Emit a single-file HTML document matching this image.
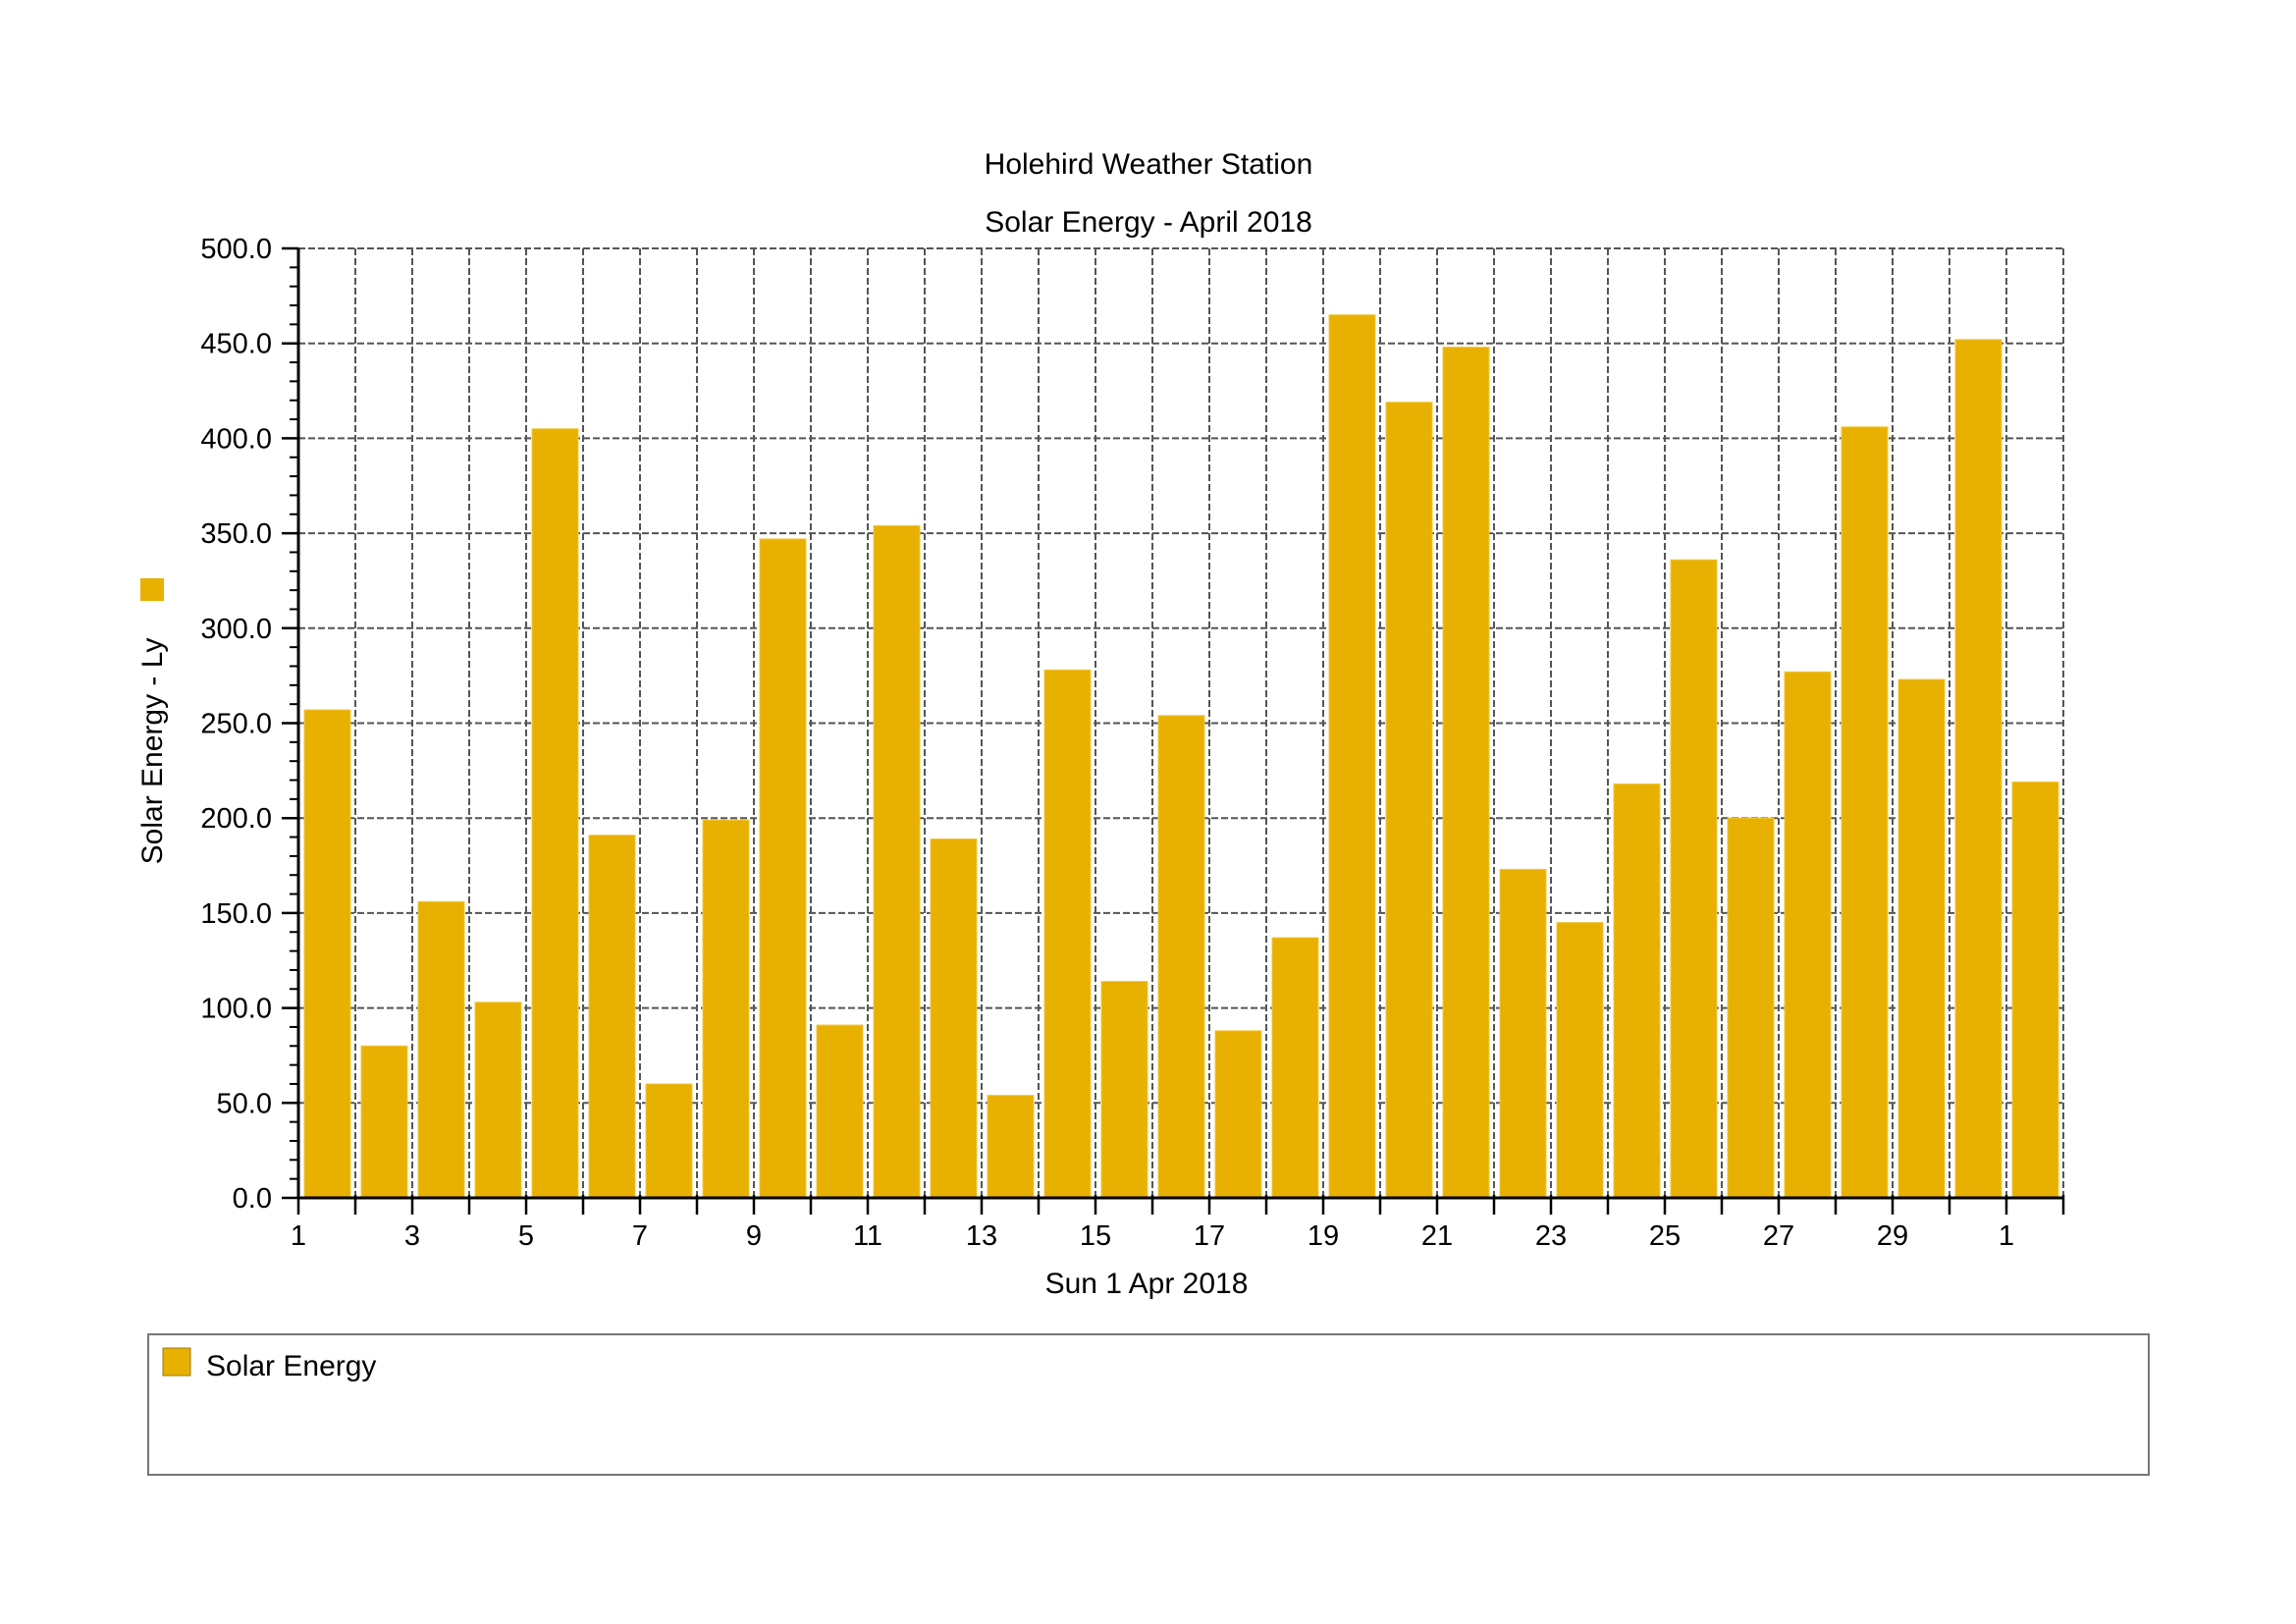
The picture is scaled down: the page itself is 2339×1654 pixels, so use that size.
<!DOCTYPE html>
<html><head><meta charset="utf-8"><style>
html,body{margin:0;padding:0;background:#fff;}
svg{display:block;font-family:"Liberation Sans",Arial,sans-serif;}
</style></head><body>
<svg id="chart" width="2339" height="1654" viewBox="0 0 2339 1654" xmlns="http://www.w3.org/2000/svg">
<rect width="2339" height="1654" fill="#fff"/>
<text x="1170" y="177" font-size="30" text-anchor="middle">Holehird Weather Station</text>
<text x="1170" y="236" font-size="30" text-anchor="middle">Solar Energy - April 2018</text>
<g id="grid"></g>
<g id="bars"></g>
<g id="axes"></g>
<rect x="143" y="589" width="24" height="23" fill="#E8B000"/>
<text transform="translate(165,765) rotate(-90)" font-size="30" text-anchor="middle">Solar Energy - Ly</text>
<text x="1168" y="1317" font-size="30" text-anchor="middle">Sun 1 Apr 2018</text>
<g>
<rect x="151" y="1359" width="2038" height="143" fill="none" stroke="#777" stroke-width="2"/>
<rect x="166" y="1373" width="28" height="28" fill="#E8B000" stroke="#9a7a10" stroke-width="1"/>
<text x="210" y="1401" font-size="30">Solar Energy</text>
</g>
</svg>
<script>
const categories = ["1","2","3","4","5","6","7","8","9","10","11","12","13","14","15","16","17","18","19","20","21","22","23","24","25","26","27","28","29","30","1"];
const solarValues = [257,80,156,103,405,191,60,199,347,91,354,189,54,278,114,254,88,137,465,419,448,173,145,218,336,200,277,406,273,452,219];
const yTicks = [0,50,100,150,200,250,300,350,400,450,500];
const yTickLabels = ["0.0","50.0","100.0","150.0","200.0","250.0","300.0","350.0","400.0","450.0","500.0"];

const NS="http://www.w3.org/2000/svg";
const L=304,R=2102,T=253,B=1220,YMAX=500;
const slot=(R-L)/categories.length;
function y(v){return B-(v/YMAX)*(B-T);}
function x(i){return L+i*slot;}
function mk(tag,attrs,parent){const e=document.createElementNS(NS,tag);for(const k in attrs)e.setAttribute(k,attrs[k]);parent.appendChild(e);return e;}
const grid=document.getElementById('grid'),bars=document.getElementById('bars'),axes=document.getElementById('axes');

yTicks.forEach((v,i)=>{
  if(v>0){const g=mk('line',{x1:L,x2:R,y1:y(v),y2:y(v),stroke:'#555','stroke-width':2,'stroke-dasharray':'7,3'},grid);
  
  }
  const t=mk('line',{x1:L-17,x2:L,y1:y(v),y2:y(v),stroke:'#000','stroke-width':2.5},axes);
  
  
  const lb=mk('text',{x:277,y:y(v)+10,'font-size':29,'text-anchor':'end'},axes);
  lb.textContent=yTickLabels[i];
  
  
});
for(let v=10;v<YMAX;v+=10){ if(v%50===0)continue;
  const t=mk('line',{x1:L-9,x2:L,y1:y(v),y2:y(v),stroke:'#000','stroke-width':2},axes);
  
  
}
for(let i=1;i<=categories.length;i++){
  const g=mk('line',{x1:x(i),x2:x(i),y1:T,y2:B,stroke:'#555','stroke-width':2,'stroke-dasharray':'7,3'},grid);
  
  
}
const tg=mk('line',{x1:L,x2:R,y1:T,y2:T,stroke:'#555','stroke-width':2,'stroke-dasharray':'7,3'},grid);



solarValues.forEach((v,i)=>{
  const r=mk('rect',{x:x(i)+6,y:y(v),width:slot-11,height:B-y(v),fill:'#E8B000',stroke:'#F0C840','stroke-width':1},bars);
  
  
});

const ya=mk('line',{x1:L,x2:L,y1:T,y2:B+1,stroke:'#000','stroke-width':3},axes);


const xa=mk('line',{x1:L,x2:R,y1:B,y2:B,stroke:'#000','stroke-width':3},axes);


for(let i=0;i<=categories.length;i++){
  const t=mk('line',{x1:x(i),x2:x(i),y1:B-3,y2:B+17,stroke:'#000','stroke-width':2.5},axes);
  
  
  if(i<categories.length && i%2===0){
    const lb=mk('text',{x:x(i),y:1268,'font-size':29,'text-anchor':'middle'},axes);
    lb.textContent=categories[i];
    
    
  }
}
</script>
</body></html>
